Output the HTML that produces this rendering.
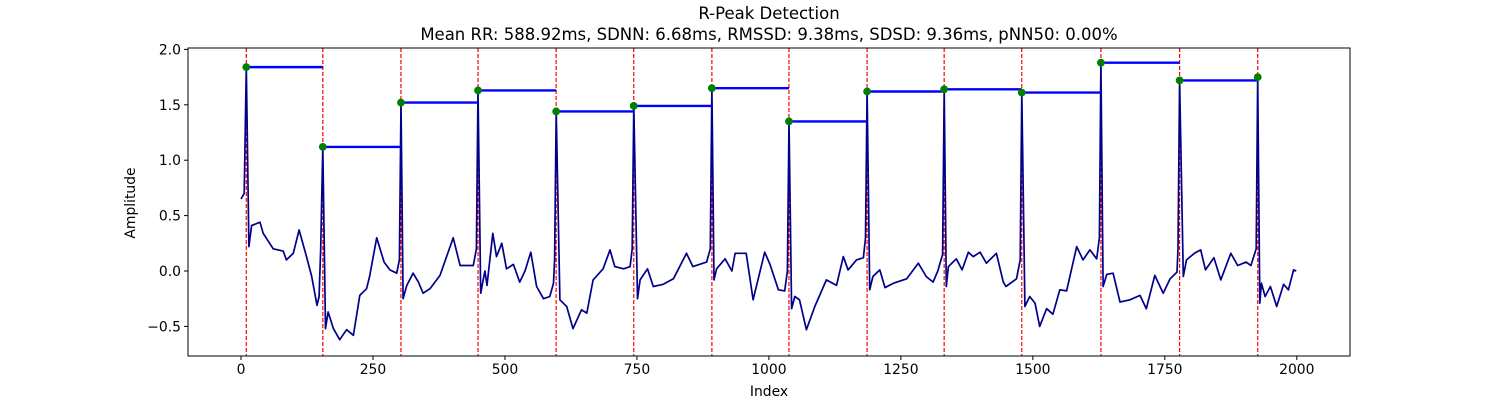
<!DOCTYPE html>
<html><head><meta charset="utf-8"><style>
body{margin:0;background:#fff}
svg{display:block;font-family:"DejaVu Sans","Liberation Sans",sans-serif}
</style></head><body>
<svg id="chart" width="1500" height="400" viewBox="0 0 1500 400">
<text x="769" y="19" text-anchor="middle" font-size="16.5">R-Peak Detection</text>
<text x="769" y="40" text-anchor="middle" font-size="16.5">Mean RR: 588.92ms, SDNN: 6.68ms, RMSSD: 9.38ms, SDSD: 9.36ms, pNN50: 0.00%</text>
<text x="769" y="396" text-anchor="middle" font-size="13.9">Index</text>
<text transform="translate(135,203) rotate(-90)" text-anchor="middle" font-size="13.9">Amplitude</text>
<g id="plot"></g>
</svg>
<script>
const peakIdx=[10,155,303,449,597,744,892,1038,1186,1332,1479,1629,1778,1926];
const peakVal=[1.84,1.12,1.52,1.63,1.44,1.49,1.65,1.35,1.62,1.64,1.61,1.88,1.72,1.75];
const sigIdx=[0,6,10,15,20,36,42,61,80,86,99,110,124,134,144,148,151,155,160,165,175,187,200,213,225,238,244,257,271,282,295,300,303,307,314,326,336,345,358,377,402,415,440,446,449,454,462,466,477,484,494,503,516,528,538,549,560,573,585,592,594,597,604,617,629,645,655,667,686,699,708,725,737,741,744,751,756,770,781,800,819,844,856,882,889,892,896,901,917,930,936,957,970,992,1002,1018,1030,1035,1038,1043,1049,1058,1071,1087,1109,1128,1141,1150,1166,1179,1183,1186,1191,1197,1210,1220,1236,1261,1283,1298,1311,1320,1329,1332,1336,1340,1355,1366,1378,1387,1400,1412,1431,1444,1449,1469,1476,1479,1485,1494,1504,1513,1526,1538,1551,1564,1583,1595,1608,1621,1626,1629,1633,1640,1652,1665,1684,1703,1715,1731,1747,1760,1773,1775,1778,1785,1791,1806,1818,1827,1843,1856,1875,1888,1904,1913,1923,1926,1930,1933,1940,1950,1962,1975,1984,1994,1999];
const sigVal=[0.65,0.7,1.84,0.22,0.41,0.44,0.34,0.2,0.18,0.1,0.16,0.37,0.13,-0.05,-0.31,-0.23,0.2,1.12,-0.52,-0.37,-0.52,-0.62,-0.53,-0.58,-0.22,-0.16,-0.04,0.3,0.08,0.01,-0.02,0.1,1.52,-0.25,-0.13,-0.02,-0.1,-0.2,-0.16,-0.04,0.3,0.05,0.05,0.2,1.63,-0.2,0,-0.13,0.34,0.13,0.25,0.02,0.06,-0.1,0,0.17,-0.14,-0.25,-0.23,-0.11,0.1,1.44,-0.26,-0.32,-0.52,-0.35,-0.38,-0.08,0.02,0.19,0.04,0.02,0.04,0.2,1.49,-0.25,-0.08,0.02,-0.14,-0.12,-0.07,0.16,0.04,0.08,0.2,1.65,-0.08,0.02,0.11,0,0.16,0.16,-0.26,0.17,0.06,-0.17,-0.18,0.0,1.35,-0.34,-0.23,-0.26,-0.53,-0.32,-0.08,-0.13,0.13,0.01,0.1,0.12,0.3,1.62,-0.17,-0.05,0.01,-0.15,-0.11,-0.07,0.07,-0.05,-0.1,0,0.15,1.64,-0.14,0.04,0.11,0.01,0.17,0.13,0.17,0.07,0.16,-0.1,-0.14,-0.07,0.1,1.61,-0.32,-0.23,-0.29,-0.5,-0.34,-0.39,-0.17,-0.18,0.22,0.1,0.19,0.11,0.3,1.88,-0.14,-0.03,-0.02,-0.28,-0.26,-0.22,-0.34,-0.04,-0.2,-0.07,-0.01,0.2,1.72,-0.05,0.1,0.16,0.19,0.01,0.12,-0.08,0.16,0.05,0.08,0.05,0.2,1.75,-0.29,-0.11,-0.23,-0.14,-0.32,-0.12,-0.17,0.01,0];
const xTicks=[0,250,500,750,1000,1250,1500,1750,2000];
const yTicks=[-0.5,0.0,0.5,1.0,1.5,2.0];
const yTickLabels=["−0.5","0.0","0.5","1.0","1.5","2.0"];

const L=188,R=1350,T=48,B=356;
const xs=v=>241+(v)*0.5279;
const ys=v=>271-v*110.8;
const NS="http://www.w3.org/2000/svg";
const g=document.getElementById('plot');
function mk(t,a){const e=document.createElementNS(NS,t);for(const k in a)e.setAttribute(k,a[k]);g.appendChild(e);return e;}
peakIdx.forEach((p,i)=>{
 const e=mk('line',{x1:xs(p),x2:xs(p),y1:T,y2:B,stroke:'#ff0000','stroke-width':1.2,'stroke-dasharray':'4,2'});
 
 
});
let d=sigIdx.map((x,i)=>(i?'L':'M')+xs(x).toFixed(1)+','+ys(sigVal[i]).toFixed(1)).join('');
const sig=mk('path',{d:d,fill:'none',stroke:'#00008b','stroke-width':1.7,'stroke-linejoin':'round'});


for(let i=0;i<peakIdx.length-1;i++){
 const e=mk('line',{x1:xs(peakIdx[i]),x2:xs(peakIdx[i+1]),y1:ys(peakVal[i]),y2:ys(peakVal[i]),stroke:'#0000ff','stroke-width':2.4});
 
 
}
peakIdx.forEach((p,i)=>{
 const e=mk('circle',{cx:xs(p),cy:ys(peakVal[i]),r:3.6,fill:'#008000',stroke:'#008000','stroke-width':0.6});
 
 
});
const fr=mk('rect',{x:L,y:T,width:R-L,height:B-T,fill:'none',stroke:'#000','stroke-width':1});


xTicks.forEach(v=>{
 const x=xs(v);
 const t=mk('line',{x1:x,x2:x,y1:B,y2:B+4,stroke:'#000'});
 
 
 const tx=mk('text',{x:x,y:B+18,'text-anchor':'middle','font-size':13.9});
 tx.textContent=v;
 
 
});
yTicks.forEach((v,i)=>{
 const y=ys(v);
 const t=mk('line',{x1:L-4,x2:L,y1:y,y2:y,stroke:'#000'});
 
 
 const tx=mk('text',{x:L-7,y:y+5,'text-anchor':'end','font-size':13.9});
 tx.textContent=yTickLabels[i];
 
 
});
</script>
</body></html>
